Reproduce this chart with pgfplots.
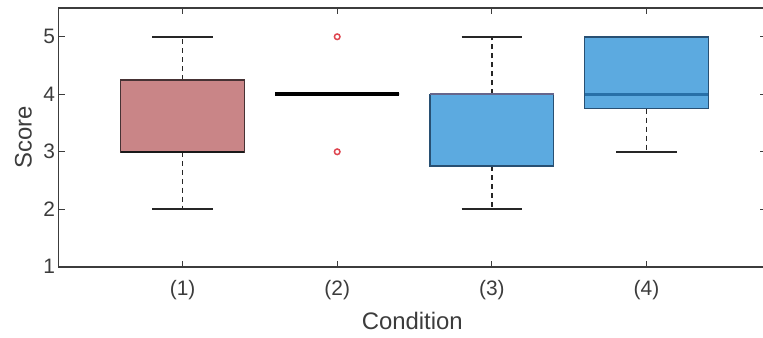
\documentclass[border=0pt]{standalone}
\usepackage{pgfplots}
\pgfplotsset{compat=1.18}
\usepgfplotslibrary{statistics}
\usepackage{fontspec}
\setmainfont{Liberation Sans}
\definecolor{pinkbox}{RGB}{201,133,135}
\definecolor{pinkedge}{RGB}{70,50,52}
\definecolor{bluebox}{RGB}{92,170,224}
\definecolor{blueedge}{RGB}{40,80,115}
\definecolor{bluemed}{RGB}{40,112,168}
\definecolor{axgray}{RGB}{60,60,60}
\definecolor{outred}{RGB}{222,70,80}
\begin{document}
\begin{tikzpicture}
\begin{axis}[name=ax,
  scale only axis, width=354bp, height=129.5bp,
  xmin=0.198, xmax=4.773, ymin=1, ymax=5.5,
  xtick={1,2,3,4}, xticklabels={(1),(2),(3),(4)},
  ytick={1,2,3,4,5},
  tick align=inside, major tick length=3bp,
  axis line style={draw=axgray, line width=0.75bp},
  every tick/.style={axgray, line width=0.6bp},
  tick label style={font=\fontsize{10.5}{12}\selectfont, text=axgray},
  yticklabel style={xshift=1.8bp},
  xticklabel style={yshift=-3.5bp},
  label style={font=\fontsize{12}{14}\selectfont, text=axgray},
  xlabel style={yshift=1bp},
  ylabel style={yshift=-1bp},
  /pgf/number format/assume math mode=true,
  xlabel=Condition, ylabel=Score,
  boxplot/draw direction=y,
  boxplot/box extend=0.8,
  boxplot/whisker extend=0.39,
  boxplot/draw/lower whisker/.code={
    \draw[black!85, line width=0.85bp, dash pattern=on 2.5bp off 2bp]
      (boxplot box cs:\pgfplotsboxplotvalue{lower quartile},0.5) --
      (boxplot box cs:\pgfplotsboxplotvalue{lower whisker},0.5);
    \draw[black!85, line width=0.85bp]
      (boxplot whisker cs:\pgfplotsboxplotvalue{lower whisker},0) --
      (boxplot whisker cs:\pgfplotsboxplotvalue{lower whisker},1);
  },
  boxplot/draw/upper whisker/.code={
    \draw[black!85, line width=0.85bp, dash pattern=on 2.5bp off 2bp]
      (boxplot box cs:\pgfplotsboxplotvalue{upper quartile},0.5) --
      (boxplot box cs:\pgfplotsboxplotvalue{upper whisker},0.5);
    \draw[black!85, line width=0.85bp]
      (boxplot whisker cs:\pgfplotsboxplotvalue{upper whisker},0) --
      (boxplot whisker cs:\pgfplotsboxplotvalue{upper whisker},1);
  },
]
\addplot[boxplot prepared={draw position=1, lower whisker=2, lower quartile=3,
  median=3, upper quartile=4.25, upper whisker=5,
  every box/.style={fill=pinkbox, draw=pinkedge, line width=0.75bp},
  every median/.style={draw=black!90, line width=1.2bp}}] coordinates {};
\addplot[boxplot prepared={draw position=2, lower whisker=4, lower quartile=4,
  median=4, upper quartile=4, upper whisker=4,
  every box/.style={draw=black, line width=1.2bp},
  every median/.style={draw=black, line width=2bp}}] coordinates {};
\addplot[boxplot prepared={draw position=3, lower whisker=2, lower quartile=2.75,
  median=4, upper quartile=4, upper whisker=5,
  every box/.style={fill=bluebox, draw=blueedge, line width=0.75bp},
  every median/.style={draw=black!75!blue!60, line width=1.2bp}}] coordinates {};
\addplot[boxplot prepared={draw position=4, lower whisker=3, lower quartile=3.75,
  median=4, upper quartile=5, upper whisker=5,
  every box/.style={fill=bluebox, draw=blueedge, line width=0.75bp},
  every median/.style={draw=bluemed, line width=1.5bp}}] coordinates {};
\addplot[only marks, mark=o, mark size=1.4bp, mark options={draw=outred, line width=0.75bp}]
  coordinates {(2,5) (2,3)};
\end{axis}
\pgfresetboundingbox
\path ([xshift=-29.3bp,yshift=-35.2bp]ax.south west) rectangle ([xshift=-1.5bp,yshift=4bp]ax.north east);
\end{tikzpicture}
\end{document}
